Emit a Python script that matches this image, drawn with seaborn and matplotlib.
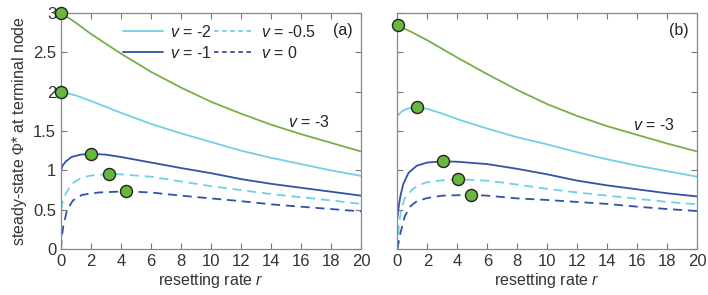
import matplotlib
matplotlib.use("Agg")
import matplotlib.pyplot as plt
from matplotlib.lines import Line2D
import seaborn as sns
import pandas as pd

# values
# panel (a)
a_r_v3 = [0, 1, 2, 4, 6, 8, 10, 12, 14, 16, 18, 20]
a_v3 = [3.0, 2.87, 2.73, 2.48, 2.25, 2.05, 1.87, 1.72, 1.58, 1.46, 1.35, 1.24]
a_r_v2 = [0, 1, 2, 4, 6, 8, 10, 12, 14, 16, 18, 20]
a_v2 = [2.0, 1.95, 1.88, 1.73, 1.59, 1.47, 1.36, 1.25, 1.16, 1.08, 1.0, 0.93]
a_r_v1 = [0, 0.1, 0.3, 0.7, 1.3, 2, 3, 4, 6, 8, 10, 12, 14, 16, 18, 20]
a_v1 = [1.0, 1.06, 1.11, 1.17, 1.20, 1.21, 1.20, 1.17, 1.10, 1.03, 0.965, 0.89, 0.83, 0.78, 0.73, 0.68]
a_r_v05 = [0, 0.1, 0.3, 0.7, 1.4, 2, 3.2, 4, 6, 8, 10, 12, 14, 16, 18, 20]
a_v05 = [0.5, 0.6, 0.7, 0.83, 0.91, 0.935, 0.955, 0.95, 0.92, 0.86, 0.80, 0.75, 0.70, 0.66, 0.62, 0.575]
a_r_v0 = [0, 0.05, 0.15, 0.4, 0.8, 1.4, 2.5, 4.33, 6, 8, 10, 12, 14, 16, 18, 20]
a_v0 = [0.0, 0.15, 0.29, 0.5, 0.62, 0.69, 0.72, 0.735, 0.72, 0.68, 0.645, 0.61, 0.57, 0.54, 0.51, 0.48]
a_peak_r = [0, 0, 1.98, 3.2, 4.33]
a_peak = [3.0, 2.0, 1.205, 0.955, 0.735]

# panel (b)
b_r_v3 = [0, 1, 2, 4, 6, 8, 10, 12, 14, 16, 18, 20]
b_v3 = [2.84, 2.75, 2.65, 2.43, 2.22, 2.02, 1.84, 1.69, 1.56, 1.45, 1.34, 1.24]
b_r_v2 = [0, 0.3, 0.7, 1.3, 2, 3, 4, 6, 8, 10, 12, 14, 16, 18, 20]
b_v2 = [1.69, 1.75, 1.785, 1.80, 1.78, 1.72, 1.65, 1.53, 1.42, 1.33, 1.23, 1.14, 1.06, 0.99, 0.92]
b_r_v1 = [0, 0.1, 0.2, 0.4, 0.75, 1.3, 2, 3, 4, 6, 8, 10, 12, 14, 16, 18, 20]
b_v1 = [0.4, 0.55, 0.67, 0.83, 0.97, 1.06, 1.10, 1.115, 1.11, 1.08, 1.02, 0.95, 0.87, 0.81, 0.76, 0.71, 0.67]
b_r_v05 = [0, 0.1, 0.25, 0.5, 1, 1.5, 2, 3, 4.07, 6, 8, 10, 12, 14, 16, 18, 20]
b_v05 = [0.0, 0.3, 0.5, 0.65, 0.76, 0.82, 0.85, 0.875, 0.887, 0.87, 0.82, 0.765, 0.72, 0.68, 0.64, 0.60, 0.57]
b_r_v0 = [0, 0.2, 0.5, 0.9, 1.3, 2, 3, 4.93, 6, 8, 10, 12, 14, 16, 18, 20]
b_v0 = [0.0, 0.2, 0.42, 0.55, 0.61, 0.65, 0.68, 0.69, 0.68, 0.645, 0.625, 0.60, 0.575, 0.54, 0.51, 0.485]
b_peak_r = [0.05, 1.29, 3.02, 4.07, 4.93]
b_peak = [2.84, 1.80, 1.115, 0.887, 0.69]

xticks = [0, 2, 4, 6, 8, 10, 12, 14, 16, 18, 20]
yticks = [0, 0.5, 1, 1.5, 2, 2.5, 3]
ytick_labels = ["0", "0.5", "1", "1.5", "2", "2.5", "3"]

green = "#78b043"
cyan = "#70d0e6"
blue = "#3351a8"
dot = "#68b83d"

sns.set_style("ticks")
plt.rcParams["font.family"] = ["Liberation Sans", "DejaVu Sans"]
plt.rcParams["mathtext.fontset"] = "custom"
plt.rcParams["mathtext.it"] = "Liberation Sans:italic"
plt.rcParams["mathtext.rm"] = "Liberation Serif"

fig = plt.figure(figsize=(7.08, 2.95), dpi=100)
ax_a = fig.add_axes([0.0862, 0.155, 0.4237, 0.802])
ax_b = fig.add_axes([0.5612, 0.155, 0.4237, 0.802])

dash = (5.0, 3.2)
panels = [
    (ax_a, [(a_r_v3, a_v3, green, None), (a_r_v2, a_v2, cyan, None),
            (a_r_v1, a_v1, blue, None), (a_r_v05, a_v05, cyan, dash),
            (a_r_v0, a_v0, blue, dash)], a_peak_r, a_peak, "(a)", 15.1, 1.61),
    (ax_b, [(b_r_v3, b_v3, green, None), (b_r_v2, b_v2, cyan, None),
            (b_r_v1, b_v1, blue, None), (b_r_v05, b_v05, cyan, dash),
            (b_r_v0, b_v0, blue, dash)], b_peak_r, b_peak, "(b)", 15.7, 1.57),
]

for ax, series, pr, pv, tag, lx, ly in panels:
    for r, v, col, d in series:
        df = pd.DataFrame({"r": r, "phi": v})
        line = sns.lineplot(data=df, x="r", y="phi", ax=ax, color=col, linewidth=1.3)
        if d is not None:
            line.lines[-1].set_dashes(d)
    sns.scatterplot(x=pr, y=pv, ax=ax, s=75, color=dot, edgecolor="#222222",
                    linewidth=1.0, zorder=5, clip_on=False)
    ax.set_xlim(0, 20)
    ax.set_ylim(0, 3)
    ax.set_xticks(xticks)
    ax.set_yticks(yticks)
    ax.tick_params(direction="in", top=True, right=True, length=4, width=0.8,
                   colors="#777777", labelcolor="#333333", labelsize=12)
    for s in ax.spines.values():
        s.set_color("#888888")
        s.set_linewidth(0.9)
    ax.set_xlabel(r"resetting rate $r$", fontsize=11.5, color="#333333", labelpad=1)
    ax.set_ylabel("")
    ax.text(lx, ly, r"$v$ = -3", fontsize=11.5, color="#222222", va="center")
    ax.text(18.8, 2.78, tag, fontsize=11.5, color="#222222", ha="center", va="center")

ax_a.set_yticklabels(ytick_labels)
ax_a.set_ylabel(r"steady-state $\Phi$* at terminal node", fontsize=11.5,
                color="#333333", labelpad=3)
ax_b.set_yticklabels([])

handles = [
    Line2D([], [], color=cyan, lw=1.3),
    Line2D([], [], color=blue, lw=1.3),
    Line2D([], [], color=cyan, lw=1.3, dashes=(2.5, 2.0)),
    Line2D([], [], color=blue, lw=1.3, dashes=(2.5, 2.0)),
]
labels = [r"$v$ = -2", r"$v$ = -1", r"$v$ = -0.5", r"$v$ = 0"]
ax_a.legend(handles, labels, ncol=2, frameon=False, fontsize=11.5,
            loc="upper left", bbox_to_anchor=(0.17, 1.0), handlelength=2.5,
            handletextpad=0.4, columnspacing=0.2, labelspacing=0.3,
            borderpad=0.2)

fig.savefig("out.png", dpi=100)
